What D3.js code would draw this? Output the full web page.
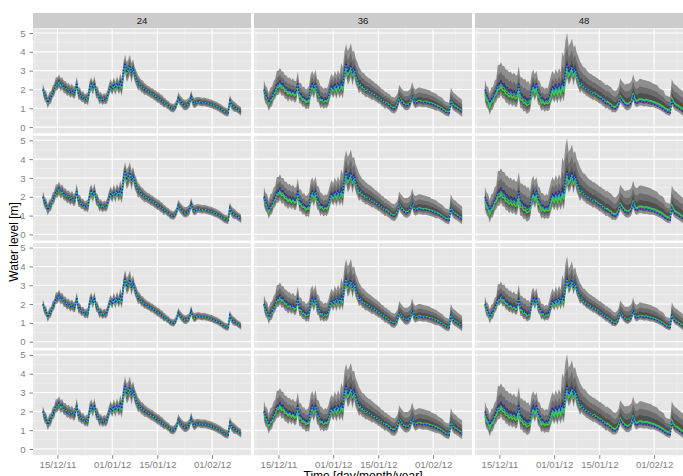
<!DOCTYPE html>
<html>
<head>
<meta charset="utf-8">
<script src="https://cdn.jsdelivr.net/npm/d3@7"></script>
<style>
  body { margin: 0; background: #fff; }
  svg text { font-family: "Liberation Sans", Arial, sans-serif; }
</style>
</head>
<body>
<div id="chart"></div>
<script>
// DATA
var leads = ["24", "36", "48"];
var methods = ["a", "b", "c", "d"];
var startTime = "2011-12-10T12:00";
var stepHours = 12;

// observed water level [m], every 12 h
var observed = [
  2.0, 1.7, 1.6, 1.3, 1.5, 1.55, 1.85, 1.95, 2.3, 2.3,
  2.45, 2.25, 2.3, 2.1, 2.1, 1.95, 2.0, 1.85, 1.95, 1.8,
  1.85, 2.35, 1.75, 1.75, 1.58, 1.6, 1.45, 1.5, 1.5, 2.1,
  2.3, 2.05, 2.35, 1.85, 1.8, 1.5, 1.55, 1.42, 1.5, 1.45,
  1.6, 1.95, 2.2, 2.0, 2.3, 2.05, 2.35, 2.1, 2.4, 2.15,
  3.0, 3.4, 2.9, 3.05, 3.3, 2.85, 3.15, 2.75, 2.55, 2.3,
  2.3, 2.15, 2.12, 2.0, 1.98, 1.9, 1.87, 1.78, 1.77, 1.68,
  1.64, 1.55, 1.54, 1.43, 1.4, 1.28, 1.27, 1.18, 1.14, 1.03,
  1.0, 0.97, 1.05, 1.2, 1.55, 1.4, 1.3, 1.2, 1.15, 1.15,
  1.2, 1.3, 1.65, 1.35, 1.25, 1.3, 1.35, 1.35, 1.32, 1.3,
  1.32, 1.3, 1.27, 1.25, 1.22, 1.2, 1.15, 1.12, 1.08, 1.03,
  0.98, 0.92, 0.85, 0.8, 0.77, 0.75, 1.4, 1.2, 1.1, 1.05,
  1.0, 0.93, 0.87, 0.8
];

// forecast median minus observed, per 2 days, per lead time
var bias24 = [0, 0, -0.05, 0, 0, 0, 0, -0.05, 0, 0, 0, -0.05, -0.1, -0.05, 0, 0,
  0, 0, 0, 0, 0, 0, 0, 0, 0, 0, 0, 0, 0, 0, 0];
var bias36 = [-0.1, -0.1, -0.2, -0.2, -0.15, -0.15, -0.15, -0.15, -0.1, -0.1, -0.1, -0.15, -0.2, -0.15, -0.1, -0.05,
  0, 0, 0, 0.05, 0.05, 0.05, 0.05, 0.05, 0.05, 0.05, 0.05, 0.05, 0.05, 0.05, 0.05];
var bias48 = [-0.25, -0.2, -0.3, -0.35, -0.3, -0.3, -0.3, -0.25, -0.25, -0.2, -0.3, -0.35, -0.3, -0.2, -0.1, 0,
  0, 0.05, 0.05, 0.1, 0.1, 0.1, 0.1, 0.15, 0.15, 0.15, 0.15, 0.15, 0.15, 0.15, 0.15];

// second forecast (cyan) minus observed
var cyan24 = [0, 0, 0, 0, 0, 0, 0, 0, 0, 0, 0, 0, -0.05, 0, 0, 0,
  0, 0, 0, 0, 0, 0, 0, 0, 0, 0, 0, 0, 0, 0, 0];
var cyan36 = [-0.05, -0.05, -0.1, -0.1, -0.08, -0.08, -0.08, -0.08, -0.05, -0.05, -0.05, -0.08, -0.1, -0.08, -0.05, 0,
  0, 0, 0, 0.03, 0.03, 0.03, 0.03, 0.03, 0.03, 0.03, 0.03, 0.03, 0.03, 0.03, 0.03];
var cyan48 = [-0.15, -0.1, -0.15, -0.2, -0.15, -0.15, -0.15, -0.15, -0.1, -0.1, -0.15, -0.2, -0.15, -0.1, -0.05, 0,
  0, 0.05, 0.05, 0.05, 0.05, 0.05, 0.05, 0.1, 0.1, 0.1, 0.1, 0.1, 0.1, 0.1, 0.1];

// ensemble spread above / below the median, per 2 days
var up24 = [0.3, 0.35, 0.4, 0.35, 0.35, 0.35, 0.3, 0.4, 0.35, 0.3, 0.35, 0.4, 0.55, 0.6, 0.45, 0.35,
  0.3, 0.3, 0.3, 0.25, 0.25, 0.3, 0.3, 0.3, 0.25, 0.25, 0.25, 0.25, 0.25, 0.3, 0.25];
var lo24 = [0.3, 0.3, 0.3, 0.3, 0.3, 0.3, 0.25, 0.3, 0.3, 0.25, 0.3, 0.3, 0.4, 0.45, 0.35, 0.3,
  0.25, 0.25, 0.25, 0.2, 0.2, 0.25, 0.25, 0.25, 0.2, 0.2, 0.2, 0.2, 0.2, 0.25, 0.2];
var up36 = [0.6, 0.7, 0.9, 0.85, 0.8, 0.75, 0.7, 0.85, 0.8, 0.7, 0.75, 0.85, 1.2, 1.3, 1.0, 0.8,
  0.7, 0.65, 0.6, 0.55, 0.55, 0.65, 0.7, 0.7, 0.7, 0.65, 0.6, 0.55, 0.5, 0.65, 0.6];
var lo36 = [0.35, 0.35, 0.4, 0.4, 0.35, 0.35, 0.35, 0.4, 0.4, 0.35, 0.35, 0.4, 0.45, 0.5, 0.4, 0.35,
  0.35, 0.3, 0.3, 0.3, 0.3, 0.3, 0.3, 0.3, 0.3, 0.3, 0.3, 0.25, 0.25, 0.3, 0.3];
var up48 = [0.75, 0.8, 1.3, 1.3, 1.25, 1.2, 1.25, 1.0, 0.9, 0.8, 1.1, 1.15, 1.9, 1.6, 1.3, 1.05,
  0.95, 0.9, 0.9, 0.9, 0.85, 0.95, 1.05, 1.0, 1.05, 1.0, 0.95, 0.85, 0.7, 1.0, 0.95];
var lo48 = [0.4, 0.4, 0.45, 0.45, 0.45, 0.45, 0.45, 0.4, 0.4, 0.4, 0.4, 0.45, 0.5, 0.45, 0.4, 0.35,
  0.35, 0.35, 0.35, 0.35, 0.3, 0.35, 0.35, 0.35, 0.35, 0.35, 0.3, 0.3, 0.3, 0.35, 0.35];

// per row (method) and lead: spread and bias factors
var spreadFactor = [[1, 1, 1], [1, 1.05, 1.05], [0.85, 0.9, 0.65], [1, 1.1, 1]];
var biasFactor = [[1, 1, 1], [1, 1, 1], [0.5, 0.5, 0.3], [1, 1, 0.9]];

// inner quantile bands as share of outer spread
var bandShares = [1, 0.62, 0.3];

var tickLabels = ["15/12/11", "01/01/12", "15/01/12", "01/02/12"];
var gridBreaks = ["01/12/11", "15/12/11", "01/01/12", "15/01/12", "01/02/12", "15/02/12"];
var yTicks = [0, 1, 2, 3, 4, 5];

var biasByLead = [bias24, bias36, bias48];
var cyanByLead = [cyan24, cyan36, cyan48];
var upByLead = [up24, up36, up48];
var loByLead = [lo24, lo36, lo48];

(function () {
  // LAYOUT
  var W = 683, H = 476;
  var padLeft = 33, padTop = 28.5;
  var panelW = 218, panelH = 104.8, gapX = 3, gapY = 2.5, stripH = 15;
  var bandColors = ["#8e8e8e", "#6c6c6c", "#4f4f4f"];

  var svg = d3.select("#chart").append("svg")
    .attr("width", W)
    .attr("height", H);

  // SCALES
  var parseTime = d3.timeParse("%Y-%m-%dT%H:%M");
  var parseTick = d3.timeParse("%d/%m/%y");
  var t0 = parseTime(startTime);
  var times = observed.map(function (v, i) { return d3.timeHour.offset(t0, i * stepHours); });
  var tFirst = times[0], tLast = times[times.length - 1];
  var span = tLast - tFirst;

  var xScale = d3.scaleTime()
    .domain([new Date(+tFirst - span * 0.05), new Date(+tLast + span * 0.05)])
    .range([0, panelW]);
  var yScale = d3.scaleLinear().domain([-0.33, 5.24]).range([panelH, 0]);

  var tickDates = tickLabels.map(parseTick);
  var breakDates = gridBreaks.map(parseTick);
  var xMinor = [];
  for (var k = 0; k < breakDates.length - 1; k++) {
    xMinor.push(new Date((+breakDates[k] + +breakDates[k + 1]) / 2));
  }
  var yMinor = [];
  for (var k = 0; k < yTicks.length - 1; k++) {
    yMinor.push((yTicks[k] + yTicks[k + 1]) / 2);
  }

  var area = d3.area()
    .x(function (d) { return xScale(d.t); })
    .y0(function (d) { return yScale(d.lo); })
    .y1(function (d) { return yScale(d.hi); });
  var line = d3.line()
    .x(function (d) { return xScale(d.t); })
    .y(function (d) { return yScale(d.v); });

  // PANELS
  methods.forEach(function (m, r) {
    leads.forEach(function (lead, c) {
      var px = padLeft + c * (panelW + gapX);
      var py = padTop + r * (panelH + gapY);
      var g = svg.append("g").attr("transform", "translate(" + px + "," + py + ")");

      var clipId = "clip-" + r + "-" + c;
      g.append("clipPath").attr("id", clipId)
        .append("rect").attr("width", panelW).attr("height", panelH);

      g.append("rect").attr("width", panelW).attr("height", panelH).attr("fill", "#e5e5e5");

      // grid
      g.selectAll(".xminor").data(xMinor).enter().append("line")
        .attr("x1", xScale).attr("x2", xScale).attr("y1", 0).attr("y2", panelH)
        .attr("stroke", "#f2f2f2").attr("stroke-width", 0.6);
      g.selectAll(".yminor").data(yMinor).enter().append("line")
        .attr("y1", yScale).attr("y2", yScale).attr("x1", 0).attr("x2", panelW)
        .attr("stroke", "#f2f2f2").attr("stroke-width", 0.6);
      g.selectAll(".xmajor").data(tickDates).enter().append("line")
        .attr("x1", xScale).attr("x2", xScale).attr("y1", 0).attr("y2", panelH)
        .attr("stroke", "#fff").attr("stroke-width", 1.1);
      g.selectAll(".ymajor").data(yTicks).enter().append("line")
        .attr("y1", yScale).attr("y2", yScale).attr("x1", 0).attr("x2", panelW)
        .attr("stroke", "#fff").attr("stroke-width", 1.1);

      var plot = g.append("g").attr("clip-path", "url(#" + clipId + ")");

      var bias = biasByLead[c], cyan = cyanByLead[c], up = upByLead[c], lo = loByLead[c];
      var sf = spreadFactor[r][c], bf = biasFactor[r][c];

      var pts = observed.map(function (v, i) {
        var grp = Math.floor(i / 4);
        return {
          t: times[i],
          obs: v,
          med: v + bias[grp] * bf,
          cy: v + cyan[grp] * bf,
          up: up[grp] * sf,
          lo: lo[grp] * sf
        };
      });

      bandShares.forEach(function (share, b) {
        plot.append("path")
          .datum(pts.map(function (p) {
            return {t: p.t, lo: p.med - p.lo * share, hi: p.med + p.up * share};
          }))
          .attr("d", area)
          .attr("fill", bandColors[b]);
      });

      plot.append("path")
        .datum(pts.map(function (p) { return {t: p.t, v: p.med}; }))
        .attr("d", line)
        .attr("fill", "none")
        .attr("stroke", "#3fd03f")
        .attr("stroke-width", 1.4);

      plot.append("path")
        .datum(pts.map(function (p) { return {t: p.t, v: p.cy}; }))
        .attr("d", line)
        .attr("fill", "none")
        .attr("stroke", "#1fb8b8")
        .attr("stroke-width", 1);

      plot.append("path")
        .datum(pts.map(function (p) { return {t: p.t, v: p.obs}; }))
        .attr("d", line)
        .attr("fill", "none")
        .attr("stroke", "#2323c8")
        .attr("stroke-width", 1.3)
        .attr("stroke-dasharray", "1.5,1.5");

      // STRIP
      if (r === 0) {
        svg.append("rect")
          .attr("x", px).attr("y", py - stripH - 0.5)
          .attr("width", panelW).attr("height", stripH)
          .attr("fill", "#cccccc");
        svg.append("text")
          .attr("x", px + panelW / 2).attr("y", py - stripH / 2 - 0.5)
          .attr("dy", "0.35em")
          .attr("text-anchor", "middle")
          .attr("font-size", "9.6px")
          .attr("fill", "#1a1a1a")
          .text(lead);
      }

      // AXES
      if (c === 0) {
        var yAxis = g.append("g")
          .call(d3.axisLeft(yScale).tickValues(yTicks).tickFormat(d3.format("d"))
            .tickSize(3.5).tickPadding(4));
        yAxis.select(".domain").remove();
        yAxis.selectAll("line").attr("stroke", "#7f7f7f");
        yAxis.selectAll("text").attr("fill", "#7f7f7f").attr("font-size", "9.6px")
          .attr("font-family", "Liberation Sans, Arial, sans-serif");
      }
      if (r === methods.length - 1) {
        var xAxis = g.append("g")
          .attr("transform", "translate(0," + panelH + ")")
          .call(d3.axisBottom(xScale).tickValues(tickDates)
            .tickFormat(d3.timeFormat("%d/%m/%y")).tickSize(3.5).tickPadding(2));
        xAxis.select(".domain").remove();
        xAxis.selectAll("line").attr("stroke", "#7f7f7f");
        xAxis.selectAll("text").attr("fill", "#7f7f7f").attr("font-size", "9.6px")
          .attr("font-family", "Liberation Sans, Arial, sans-serif");
      }
    });
  });

  // TITLES
  var plotBottom = padTop + methods.length * panelH + (methods.length - 1) * gapY;
  var plotRight = padLeft + leads.length * panelW + (leads.length - 1) * gapX;

  svg.append("text")
    .attr("x", (padLeft + plotRight) / 2)
    .attr("y", 479.5)
    .attr("text-anchor", "middle")
    .attr("font-size", "12px")
    .attr("fill", "#000")
    .text("Time [day/month/year]");

  svg.append("text")
    .attr("transform", "translate(18," + (padTop + plotBottom) / 2 + ") rotate(-90)")
    .attr("text-anchor", "middle")
    .attr("font-size", "12px")
    .attr("fill", "#000")
    .text("Water level [m]");
})();
</script>
</body>
</html>
